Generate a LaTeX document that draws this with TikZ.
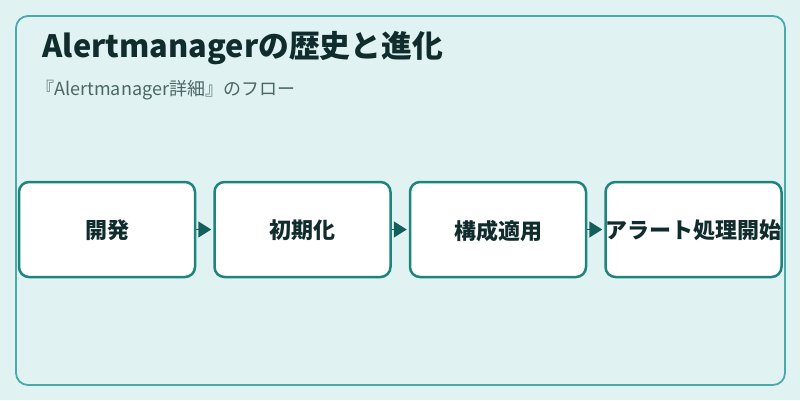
\documentclass[tikz,border=0pt]{standalone}
\usepackage{fontspec}
\setmainfont{Noto Sans CJK JP}
\usetikzlibrary{arrows.meta}
\definecolor{bgcol}{RGB}{224,243,242}
\definecolor{framecol}{RGB}{74,170,170}
\definecolor{boxcol}{RGB}{30,132,126}
\definecolor{arrowcol}{RGB}{20,95,92}
\definecolor{titlecol}{RGB}{16,44,44}
\definecolor{subcol}{RGB}{74,102,102}
\begin{document}
\begin{tikzpicture}[x = 1pt, y = -1pt,
        stage/.style = {draw = boxcol, line width = 2.5pt, fill = white, rounded corners = 10pt,
            minimum width = 176pt, minimum height = 95pt, inner sep = 0pt, text depth = 0pt,
            font = \fontsize{22}{26}\selectfont\bfseries, text = titlecol},
        flow/.style = {draw = arrowcol, line width = 1.5pt, shorten > = 2pt,
            -{Triangle[length = 13pt, width = 16pt]}}
    ]
        \useasboundingbox [fill = bgcol] (0, 0) rectangle (800, 400);
        \draw [framecol, line width = 1.8pt, rounded corners = 12pt] (16, 16) rectangle (785, 385);

        \node [anchor = base west, text = titlecol, font = \fontsize{30.8}{34}\selectfont\bfseries] (title) at (39, 57) {Alertmanagerの歴史と進化};
        \node [anchor = base west, text = subcol, font = \fontsize{18}{22}\selectfont] (sub) at (33, 95) {『Alertmanager詳細』のフロー};

        \node [stage] (dev) at (107, 229.5) {開発};
        \node [stage] (init) at (302.5, 229.5) {初期化};
        \node [stage] (conf) at (498, 229.5) {構成適用};
        \node [stage] (alert) at (693.5, 229.5) {アラート処理開始};

        \draw [flow] (dev) -- (init);
        \draw [flow] (init) -- (conf);
        \draw [flow] (conf) -- (alert);
    \end{tikzpicture}
\end{document}
